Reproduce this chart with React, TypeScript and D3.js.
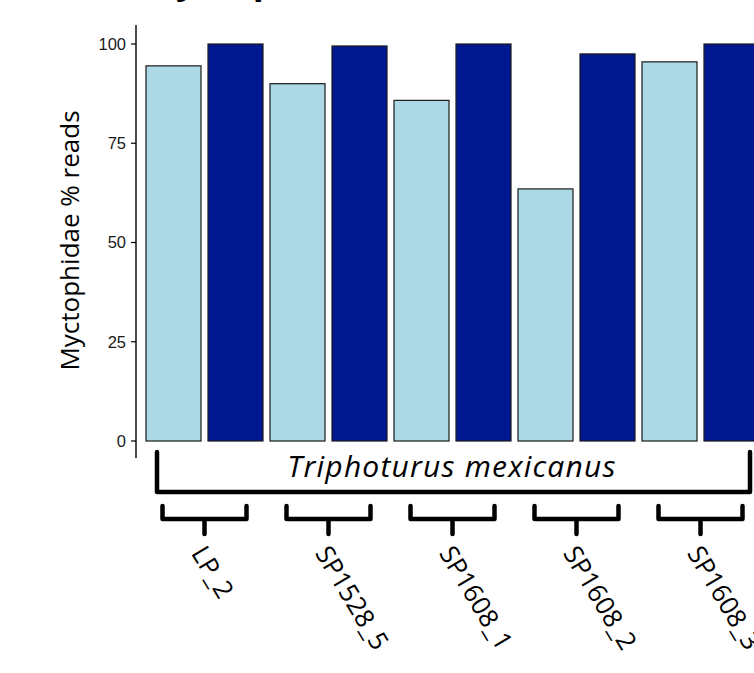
import React from "react";
import * as d3 from "d3";

const W = 754;
const H = 673;

const samples = ["LP_2", "SP1528_5", "SP1608_1", "SP1608_2", "SP1608_3"];
const series = ["light", "dark"];
const lightValues = [94.5, 90, 85.8, 63.5, 95.5];
const darkValues = [100, 99.5, 100, 97.5, 100];
const yTicks = [0, 25, 50, 75, 100];
const speciesLabel = "Triphoturus mexicanus";

const COLORS: Record<string, string> = { light: "#ADD8E6", dark: "#00188F" };

export default function App() {
  const y = d3.scaleLinear().domain([0, 100]).range([441, 44]);

  // groups of two bars
  const x0 = d3
    .scaleBand<string>()
    .domain(samples)
    .range([146, 759])
    .paddingInner(7 / 124)
    .paddingOuter(0);
  const x1 = d3
    .scaleBand<string>()
    .domain(series)
    .range([0, x0.bandwidth()])
    .paddingInner(7 / 62);

  const rows = samples.map((s, i) => ({
    sample: s,
    light: lightValues[i],
    dark: darkValues[i],
  }));

  const axisX = 136;
  const first = x0(samples[0])!;
  const last = x0(samples[samples.length - 1])! + x0.bandwidth();
  const bigTop = 452;
  const bigBottom = 492;

  return (
    <svg
      width={W}
      height={H}
      style={{ position: "absolute", left: 0, top: 0, background: "#fff" }}
    >
      {/* title, cut off above the page */}
      <text
        x={142}
        y={-7.5}
        fontFamily="Open Sans, sans-serif"
        fontWeight={700}
        fontSize={36}
      >
        Myctophidae
      </text>

      {/* bars */}
      {rows.map((r) => (
        <g key={r.sample} transform={`translate(${x0(r.sample)},0)`}>
          {series.map((k) => {
            const v = (r as any)[k] as number;
            return (
              <rect
                key={k}
                x={x1(k)}
                y={y(v)}
                width={x1.bandwidth()}
                height={y(0) - y(v)}
                fill={COLORS[k]}
                stroke="#1a1a1a"
                strokeWidth={1.2}
              />
            );
          })}
        </g>
      ))}

      {/* y axis */}
      <line
        x1={axisX}
        x2={axisX}
        y1={y(-4.3)}
        y2={y(104.8)}
        stroke="#000"
        strokeWidth={1.4}
      />
      {yTicks.map((t) => (
        <g key={t} transform={`translate(0,${y(t)})`}>
          <line x1={axisX - 5} x2={axisX} stroke="#000" strokeWidth={1.2} />
          <text
            x={axisX - 10}
            dy="0.36em"
            textAnchor="end"
            fontFamily="Liberation Sans, Arial, sans-serif"
            fontSize={16.5}
            fill="#1a1a1a"
          >
            {t}
          </text>
        </g>
      ))}
      <text
        transform={`translate(79,${(y(0) + y(100)) / 2 - 2}) rotate(-90)`}
        textAnchor="middle"
        fontFamily="Open Sans, sans-serif"
        fontSize={26}
        fill="#000"
      >
        Myctophidae % reads
      </text>

      {/* species bracket */}
      <path
        d={`M${first + 11},${bigTop} L${first + 11},${bigBottom} L${last - 9},${bigBottom} L${last - 9},${bigTop}`}
        fill="none"
        stroke="#000"
        strokeWidth={4.5}
        strokeLinejoin="round"
        strokeLinecap="round"
      />
      <text
        x={452}
        y={477}
        textAnchor="middle"
        fontFamily="Open Sans, sans-serif"
        fontStyle="italic"
        fontSize={30}
        letterSpacing={1.2}
        fill="#000"
      >
        {speciesLabel}
      </text>

      {/* sample brackets and labels */}
      {samples.map((s) => {
        const cx = x0(s)! + x0.bandwidth() / 2;
        return (
          <g key={s}>
            <path
              d={`M${cx - 42},${506} L${cx - 42},${519} L${cx + 42},${519} L${cx + 42},${506} M${cx},${519} L${cx},${534}`}
              fill="none"
              stroke="#000"
              strokeWidth={4.5}
              strokeLinejoin="round"
              strokeLinecap="round"
            />
            <text
              transform={`translate(${cx - 14},${553}) rotate(59)`}
              fontFamily="Open Sans, sans-serif"
              fontSize={26}
              fill="#000"
            >
              {s}
            </text>
          </g>
        );
      })}
    </svg>
  );
}
